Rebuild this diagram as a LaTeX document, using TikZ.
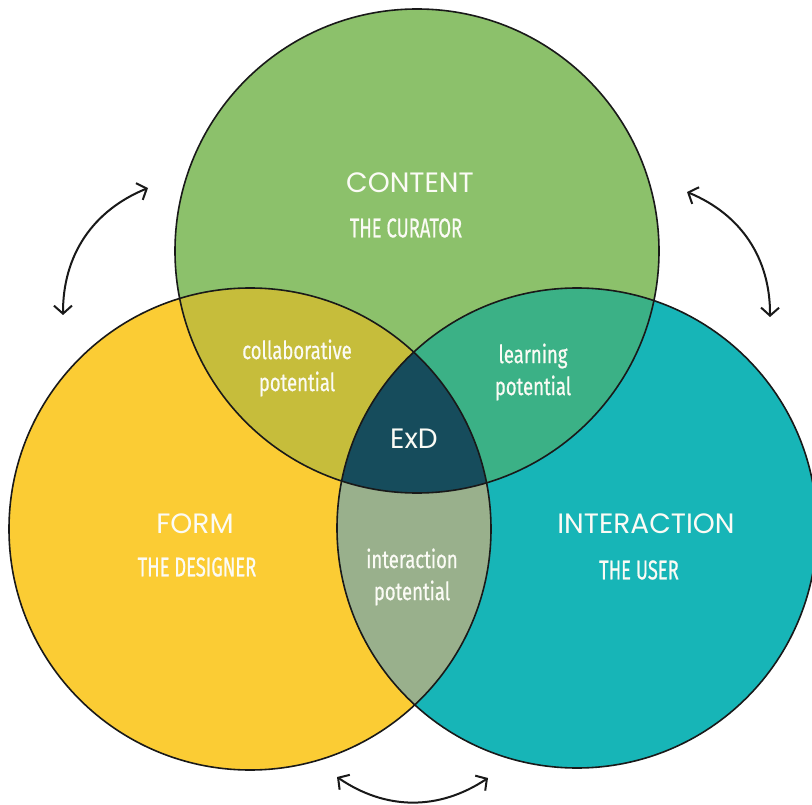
\documentclass[tikz,border=0pt]{standalone}
\usepackage{fontspec}
\usetikzlibrary{arrows.meta}
\newfontfamily\geofont{Poppins}
\newfontfamily\condfont[FakeBold=0.8]{Fira Sans}
\newcommand{\cnd}[1]{\scalebox{0.68}[1]{#1}}
\newcommand{\cndl}[1]{\scalebox{0.74}[1]{#1}}
\definecolor{cgreen}{HTML}{8CC16B}
\definecolor{cyellow}{HTML}{FBCC34}
\definecolor{cteal}{HTML}{17B5B7}
\definecolor{colive}{HTML}{C6BD3B}
\definecolor{clearn}{HTML}{3BB186}
\definecolor{cinter}{HTML}{99B08C}
\definecolor{cexd}{HTML}{164C5C}
\definecolor{ctext}{HTML}{FBFBF5}
\tikzset{
  title/.style={text=ctext, font=\geofont\fontsize{28}{30}\selectfont, inner sep=0pt},
  sub/.style={text=ctext, font=\condfont\fontsize{27}{30}\selectfont, inner sep=0pt},
  pot/.style={text=ctext, font=\condfont\fontsize{25}{32}\selectfont, align=center, inner sep=0pt},
  ring/.style={draw=black!90, line width=1.6pt},
  swap/.style={draw=black!90, line width=2pt, line cap=round, {Straight Barb[length=8pt,width=18pt]}-{Straight Barb[length=8pt,width=18pt]}}
}
\begin{document}
\begin{tikzpicture}[x=1pt,y=-1pt]
\useasboundingbox (0,0) rectangle (812,805);
\fill[white] (0,0) rectangle (812,805);
\coordinate (G) at (417,251);
\coordinate (Y) at (250,529);
\coordinate (T) at (577,528);
% base fills
\fill[cgreen] (G) circle[radius=242pt];
\fill[cyellow] (Y) circle[radius=241pt];
\fill[cteal] (T) circle[radius=240pt];
% pairwise intersections
\begin{scope}
  \clip (G) circle[radius=242pt];
  \fill[colive] (Y) circle[radius=241pt];
  \fill[clearn] (T) circle[radius=240pt];
\end{scope}
\begin{scope}
  \clip (Y) circle[radius=241pt];
  \fill[cinter] (T) circle[radius=240pt];
\end{scope}
\begin{scope}
  \clip (G) circle[radius=242pt];
  \clip (Y) circle[radius=241pt];
  \fill[cexd] (T) circle[radius=240pt];
\end{scope}
% outlines
\draw[ring] (G) circle[radius=242pt];
\draw[ring] (Y) circle[radius=241pt];
\draw[ring] (T) circle[radius=240pt];
% labels
\node[title] (content) at (410,183) {CONTENT};
\node[sub] (curator) at (406,228) {\cnd{THE CURATOR}};
\node[title] (form) at (195,524) {FORM};
\node[sub] (designer) at (197,567) {\cnd{THE DESIGNER}};
\node[title] (interaction) at (646,524) {INTERACTION};
\node[sub] (user) at (639,570) {\cnd{THE USER}};
\node[title] (exd) at (414,439) {ExD};
\node[pot] (collab) at (297,368) {\cndl{collaborative}\\\cndl{potential}};
\node[pot] (learn) at (533,372) {\cndl{learning}\\\cndl{potential}};
\node[pot] (ipot) at (412,577) {\cndl{interaction}\\\cndl{potential}};
% arrows
\coordinate (a1) at (148,188);
\coordinate (a2) at (63,315);
\coordinate (b1) at (687,192);
\coordinate (b2) at (770,317);
\coordinate (c1) at (337,777);
\coordinate (c2) at (488,778);
\draw[swap] (a1) to[bend right=34] (a2);
\draw[swap] (b1) to[bend left=34] (b2);
\draw[swap] (c1) to[bend right=34] (c2);
\end{tikzpicture}
\end{document}
